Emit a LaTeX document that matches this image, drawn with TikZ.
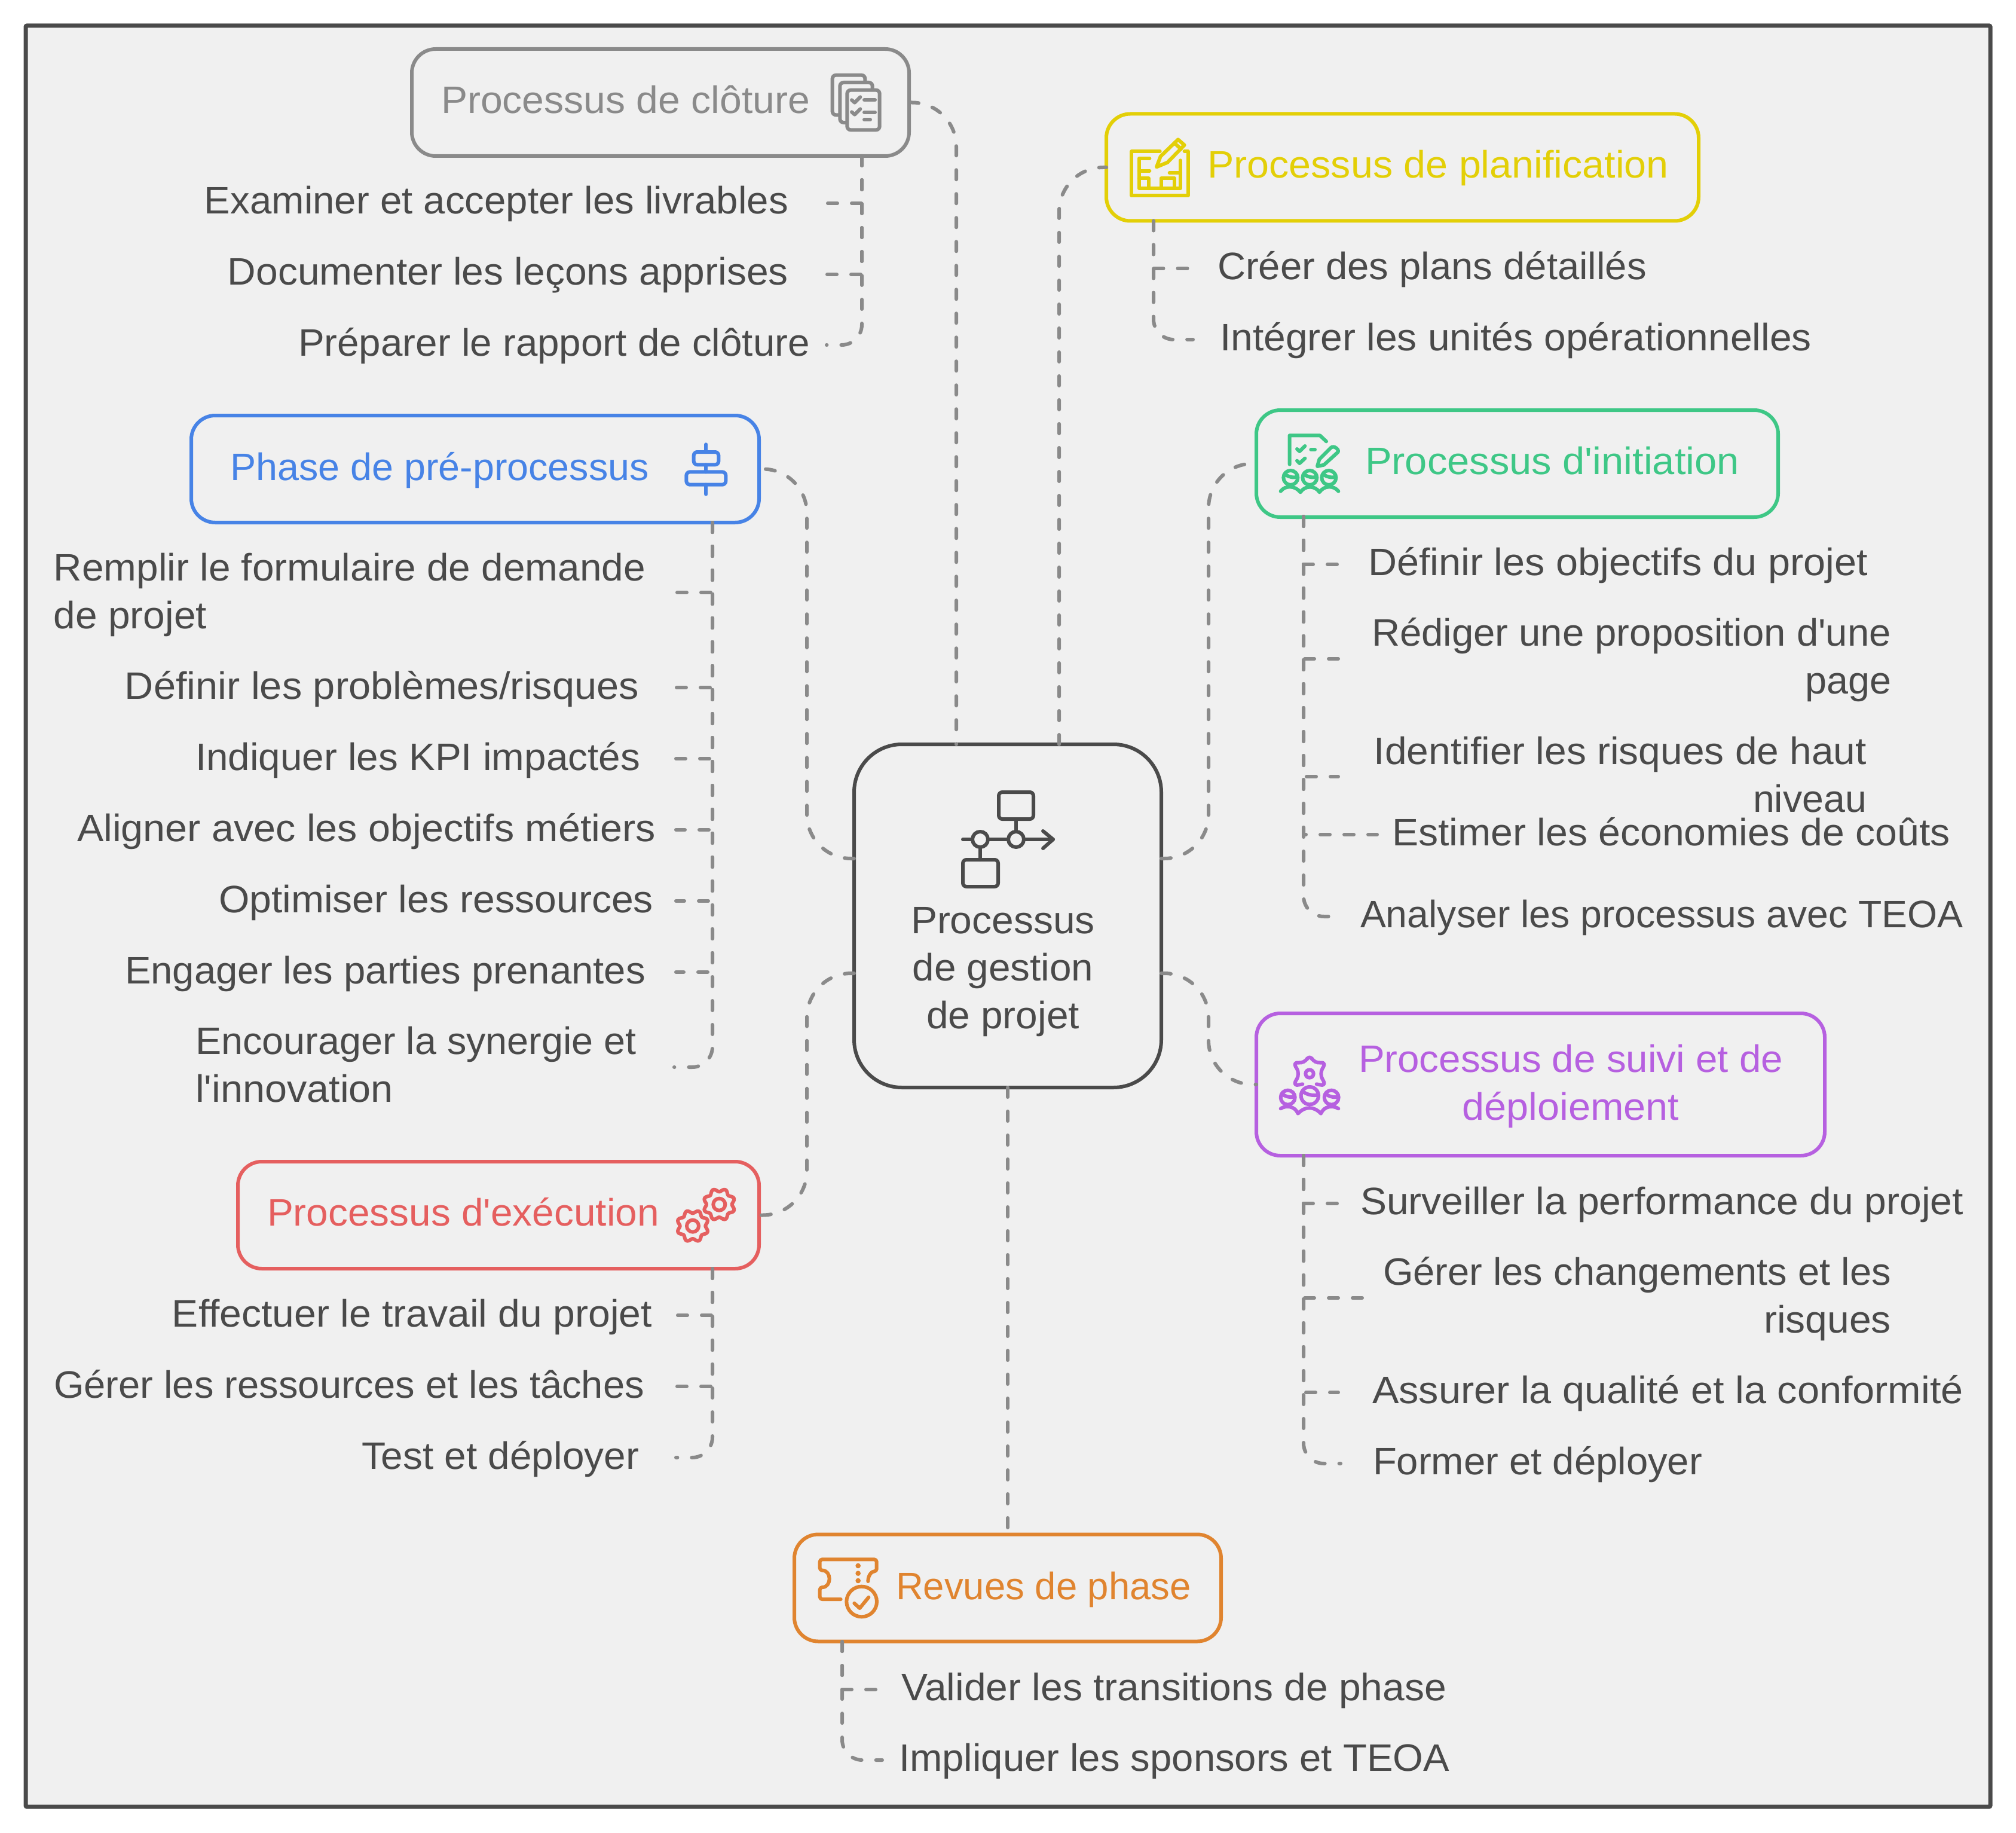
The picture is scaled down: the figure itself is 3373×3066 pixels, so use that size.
\documentclass[tikz,border=0pt]{standalone}
\usepackage{graphicx}
\usepackage{fontspec}
\setmainfont{Liberation Sans}[Ligatures=TeXOff]
\definecolor{bgc}{HTML}{F0F0F0}
\definecolor{ink}{HTML}{4A4A4A}
\definecolor{cgray}{HTML}{8A8A8A}
\definecolor{cyellow}{HTML}{E3CF07}
\definecolor{cgreen}{HTML}{3EC786}
\definecolor{cblue}{HTML}{4783E6}
\definecolor{cpurple}{HTML}{B660E0}
\definecolor{cred}{HTML}{E55F5F}
\definecolor{corange}{HTML}{E0842F}
\newcommand\fitw[2]{\resizebox{#1pt}{\height}{#2}}
\tikzset{
  boxnode/.style={draw=#1,line width=3pt,rounded corners=20pt,inner sep=0pt,outer sep=0pt,minimum height=89.5pt},
  hubnode/.style={draw=ink,line width=3pt,rounded corners=40pt,inner sep=0pt,outer sep=0pt,minimum width=257pt,minimum height=287pt},
  txt/.style={inner sep=0pt,outer sep=0pt,text=ink,font=\fontsize{32}{40}\selectfont},
  ttl/.style={inner sep=0pt,outer sep=0pt,text=#1,font=\fontsize{32}{40}\selectfont},
  conn/.style={draw=cgray,line width=3pt,line cap=round,dash pattern=on 8pt off 12pt},
  bendconn/.style={conn,rounded corners=17pt},
  mainconn/.style={conn,rounded corners=37pt},
  zoomspace/.style={shift={#1},x=0.166667pt,y=-0.166667pt},
  ico/.style={draw=#1,line width=3pt,line cap=round,line join=round},
}
\newcommand\pplhead[4]{% colour,x,y,r
  \draw[ico=#1] (#2,#3) circle[radius=#4];
  \draw[ico=#1] ({#2-0.85*#4},{#3-0.5*#4}) .. controls ({#2-0.3*#4},{#3-0.1*#4}) and ({#2+0.4*#4},{#3+0.05*#4}) .. ({#2+0.95*#4},{#3-0.1*#4});
}
\newcommand\gearico[3]{% colour,x,y
  \draw[ico=#1] plot[domain=0:360,samples=97,smooth] ({#2+(72+8*cos(8*(\x-22.5)))*cos(\x)},{#3+(72+8*cos(8*(\x-22.5)))*sin(\x)}) -- cycle;
  \draw[ico=#1] (#2,#3) circle[radius=30];
}
\begin{document}
\begin{tikzpicture}[x=0.5pt,y=-0.5pt]
\useasboundingbox (0,0) rectangle (3373,3066);
\fill[white] (0,0) rectangle (3373,3066);
\draw[fill=bgc,draw=ink,line width=3.5pt,rounded corners=1pt] (43,43) rectangle (3330,3022);

% boxes
\node[hubnode] (hub) at (1686,1532) {};
\node[boxnode=cgray,minimum width=416pt] (clot) at (1105,171.5) {};
\node[boxnode=cyellow,minimum width=495.5pt] (plan) at (2346.5,280) {};
\node[boxnode=cgreen,minimum width=436.5pt] (init) at (2538.5,775.5) {};
\node[boxnode=cblue,minimum width=475pt] (pre) at (795,784.5) {};
\node[boxnode=cred,minimum width=436pt] (exec) at (834,2032.5) {};
\node[boxnode=cpurple,minimum width=475.5pt,minimum height=119pt] (suivi) at (2577.5,1814) {};
\node[boxnode=corange,minimum width=357pt] (revues) at (1686,2656) {};

% titles
\node[txt,anchor=base] (hubA) at (1678,1561) {\fitw{154}{Processus}};
\node[txt,anchor=base] (hubB) at (1678,1640) {\fitw{151.5}{de gestion}};
\node[txt,anchor=base] (hubC) at (1678,1720) {\fitw{128}{de projet}};
\node[ttl=cgray,anchor=base west] (clotT) at (738,190) {\fitw{308.5}{Processus de clôture}};
\node[ttl=cyellow,anchor=base west] (planT) at (2020,298) {\fitw{386}{Processus de planification}};
\node[ttl=cgreen,anchor=base west] (initT) at (2284,793) {\fitw{313}{Processus d'initiation}};
\node[ttl=cblue,anchor=base west] (preT) at (385,803) {\fitw{350.5}{Phase de pré-processus}};
\node[ttl=cred,anchor=base west] (execT) at (447,2050) {\fitw{328}{Processus d'exécution}};
\node[ttl=cpurple,anchor=base] (suiviA) at (2628,1793) {\fitw{355}{Processus de suivi et de}};
\node[ttl=cpurple,anchor=base] (suiviB) at (2628,1873) {\fitw{181.5}{déploiement}};
\node[ttl=corange,anchor=base west] (revuesT) at (1499,2675) {\fitw{247}{Revues de phase}};

% items
\node[txt,anchor=base east] (c1) at (1319,358) {\fitw{488.5}{Examiner et accepter les livrables}};
\node[txt,anchor=base east] (c2) at (1319,477) {\fitw{469}{Documenter les leçons apprises}};
\node[txt,anchor=base east] (c3) at (1355,595) {\fitw{428}{Préparer le rapport de clôture}};

\node[txt,anchor=base west] (p1a) at (90,971) {\fitw{495}{Remplir le formulaire de demande}};
\node[txt,anchor=base west] (p1b) at (90,1051) {\fitw{128}{de projet}};
\node[txt,anchor=base east] (p2) at (1069,1169) {\fitw{430}{Définir les problèmes/risques}};
\node[txt,anchor=base east] (p3) at (1071,1288) {\fitw{372}{Indiquer les KPI impactés}};
\node[txt,anchor=base east] (p4) at (1097,1407) {\fitw{484}{Aligner avec les objectifs métiers}};
\node[txt,anchor=base east] (p5) at (1093,1526) {\fitw{363.5}{Optimiser les ressources}};
\node[txt,anchor=base east] (p6) at (1080,1645) {\fitw{435.5}{Engager les parties prenantes}};
\node[txt,anchor=base west] (p7a) at (327,1763) {\fitw{369}{Encourager la synergie et}};
\node[txt,anchor=base west] (p7b) at (327,1843) {\fitw{165.5}{l'innovation}};

\node[txt,anchor=base east] (e1) at (1091,2219) {\fitw{401.5}{Effectuer le travail du projet}};
\node[txt,anchor=base west] (e2) at (90,2338) {\fitw{494}{Gérer les ressources et les tâches}};
\node[txt,anchor=base east] (e3) at (1069,2457) {\fitw{232}{Test et déployer}};

\node[txt,anchor=base west] (l1) at (2037,467) {\fitw{359}{Créer des plans détaillés}};
\node[txt,anchor=base west] (l2) at (2041,586) {\fitw{495}{Intégrer les unités opérationnelles}};

\node[txt,anchor=base west] (i1) at (2289,962) {\fitw{418}{Définir les objectifs du projet}};
\node[txt,anchor=base east] (i2a) at (3164,1080) {\fitw{434.5}{Rédiger une proposition d'une}};
\node[txt,anchor=base east] (i2b) at (3164,1160) {\fitw{72}{page}};
\node[txt,anchor=base east] (i3a) at (3123,1278) {\fitw{412}{Identifier les risques de haut}};
\node[txt,anchor=base east] (i3b) at (3123,1358) {\fitw{95}{niveau}};
\node[txt,anchor=base east] (i4) at (3263,1414) {\fitw{467}{Estimer les économies de coûts}};
\node[txt,anchor=base east] (i5) at (3285,1551) {\fitw{504.5}{Analyser les processus avec TEOA}};

\node[txt,anchor=base east] (s1) at (3285,2031) {\fitw{504.5}{Surveiller la performance du projet}};
\node[txt,anchor=base east] (s2a) at (3164,2149) {\fitw{425}{Gérer les changements et les}};
\node[txt,anchor=base east] (s2b) at (3164,2229) {\fitw{106.5}{risques}};
\node[txt,anchor=base east] (s3) at (3285,2347) {\fitw{494.5}{Assurer la qualité et la conformité}};
\node[txt,anchor=base west] (s4) at (2297,2466) {\fitw{275.5}{Former et déployer}};

\node[txt,anchor=base west] (r1) at (1508,2844) {\fitw{456}{Valider les transitions de phase}};
\node[txt,anchor=base west] (r2) at (1504,2962) {\fitw{460.5}{Impliquer les sponsors et TEOA}};

% anchors on the hub and lanes
\coordinate (hubT1) at (1600,1245);
\coordinate (hubT2) at (1772,1245);
\coordinate (hubL1) at (1429,1436);
\coordinate (hubL2) at (1429,1628);
\coordinate (hubR1) at (1943,1436);
\coordinate (hubR2) at (1943,1628);
\coordinate (laneL) at (1350,0);
\coordinate (laneR) at (2022,0);

% main connectors
\draw[mainconn] (clot.east) -| (hubT1);
\draw[mainconn] (hubT2) |- (plan.west);
\draw[mainconn] (hubL1) -- (hubL1 -| laneL) -- (pre.east -| laneL) -- (pre.east);
\draw[mainconn] (hubL2) -- (hubL2 -| laneL) -- (exec.east -| laneL) -- (exec.east);
\draw[mainconn] (hubR1) -- (hubR1 -| laneR) -- (init.west -| laneR) -- (init.west);
\draw[mainconn] (hubR2) -- (hubR2 -| laneR) -- (suivi.west -| laneR) -- (suivi.west);
\draw[conn] (hub.south) -- (revues.north);

% list connectors
\coordinate (cT) at (1442,261);
\coordinate (cA) at (1383,340); \coordinate (cB) at (1383,459); \coordinate (cC) at (1383,577);
\draw[conn] (cT) |- (cA); \draw[conn] (cT) |- (cB); \draw[bendconn] (cT) |- (cC);

\coordinate (lT) at (1930,369.5);
\coordinate (lA) at (1994,449); \coordinate (lB) at (1996,568);
\draw[conn] (lT) |- (lA); \draw[bendconn] (lT) |- (lB);

\coordinate (iT) at (2181,864);
\coordinate (iA) at (2239,944); \coordinate (iB) at (2239,1102); \coordinate (iC) at (2239,1299);
\coordinate (iD) at (2304,1396); \coordinate (iE) at (2226,1533);
\draw[conn] (iT) |- (iA); \draw[conn] (iT) |- (iB); \draw[conn] (iT) |- (iC); \draw[conn] (iT) |- (iD); \draw[bendconn] (iT) |- (iE);

\coordinate (sT) at (2181,1933);
\coordinate (sA) at (2239,2013); \coordinate (sB) at (2280,2171); \coordinate (sC) at (2239,2329); \coordinate (sD) at (2243,2448);
\draw[conn] (sT) |- (sA); \draw[conn] (sT) |- (sB); \draw[conn] (sT) |- (sC); \draw[bendconn] (sT) |- (sD);

\coordinate (rT) at (1409,2746);
\coordinate (rA) at (1471,2826); \coordinate (rB) at (1476,2944);
\draw[conn] (rT) |- (rA); \draw[bendconn] (rT) |- (rB);

\coordinate (pT) at (1192,874);
\coordinate (pA) at (1131,991); \coordinate (pB) at (1131,1150); \coordinate (pC) at (1131,1269);
\coordinate (pD) at (1131,1388); \coordinate (pE) at (1131,1507); \coordinate (pF) at (1131,1626); \coordinate (pG) at (1128,1785);
\foreach \e in {pA,pB,pC,pD,pE,pF} {\draw[conn] (pT) |- (\e);}
\draw[bendconn] (pT) |- (pG);

\coordinate (eT) at (1192,2122);
\coordinate (eA) at (1131,2200); \coordinate (eB) at (1131,2319); \coordinate (eC) at (1131,2438);
\draw[conn] (eT) |- (eA); \draw[conn] (eT) |- (eB); \draw[bendconn] (eT) |- (eC);

% hub icon
\draw[ico=ink,rounded corners=3pt] (1671,1325) rectangle (1729,1370);
\draw[ico=ink,rounded corners=3pt] (1611,1438) rectangle (1670,1483);
\draw[ico=ink] (1611,1404) -- (1627,1404) (1653,1404) -- (1687,1404) (1713,1404) -- (1762,1404);
\draw[ico=ink] (1745,1390) -- (1762,1404) -- (1745,1419);
\draw[ico=ink] (1640,1404) circle[radius=13];
\draw[ico=ink] (1700,1404) circle[radius=13];
\draw[ico=ink] (1700,1370) -- (1700,1391);
\draw[ico=ink] (1640,1417) -- (1640,1438);

% cloture icon
\begin{scope}[zoomspace={(1360,80)}]
\draw[ico=cgray,rounded corners=3pt] (128,337) -- (98,337) -- (98,137) -- (262,137) -- (262,165);
\draw[ico=cgray,rounded corners=3pt] (165,375) -- (136,375) -- (136,174) -- (299,174) -- (299,205);
\draw[ico=cgray,rounded corners=3pt] (172,212) rectangle (335,412);
\draw[ico=cgray] (195,262) -- (210,275) -- (238,247);
\draw[ico=cgray] (195,322) -- (210,335) -- (238,307);
\draw[ico=cgray] (258,262) -- (312,262) (258,323) -- (312,323) (258,361) -- (288,361);
\end{scope}

% planification icon
\begin{scope}[zoomspace={(1840,170)}]
\draw[ico=cyellow] (302,250) -- (160,250) -- (160,472) -- (443,472) -- (443,250) -- (425,250);
\draw[ico=cyellow] (250,285) -- (197,285) -- (197,435) -- (405,435) -- (405,295);
\draw[ico=cyellow] (197,347) -- (250,347);
\draw[ico=cyellow] (197,385) -- (245,385) -- (245,435);
\draw[ico=cyellow] (350,358) -- (405,358);
\draw[ico=cyellow] (308,435) -- (308,385) -- (375,385) -- (375,435);
\draw[ico=cyellow] (285,328) -- (305,275) -- (393,190) -- (425,218) -- (340,305) -- cycle;
\draw[ico=cyellow] (375,208) -- (408,238);
\end{scope}

% initiation icon
\begin{scope}[zoomspace={(2120,680)}]
\draw[ico=cgreen] (113,290) -- (113,145) -- (265,145) -- (297,175);
\draw[ico=cgreen] (150,213) -- (163,225) -- (190,198);
\draw[ico=cgreen] (150,272) -- (163,285) -- (190,260);
\draw[ico=cgreen] (220,216) -- (240,216);
\draw[ico=cgreen] (252,300) -- (262,265) -- (320,207) .. controls (335,190) and (370,222) .. (352,232) -- (285,293) -- cycle;
\pplhead{cgreen}{118}{357}{36}
\pplhead{cgreen}{214}{357}{36}
\pplhead{cgreen}{310}{357}{36}
\draw[ico=cgreen] (68,425) .. controls (90,395) and (140,395) .. (167,430) .. controls (190,395) and (240,395) .. (263,430) .. controls (285,395) and (335,395) .. (358,425);
\end{scope}

% suivi icon
\begin{scope}[zoomspace={(2120,1720)}]
\draw[ico=cpurple,rounded corners=5pt] (178,280) -- (128,290) -- (165,228) -- (128,168) -- (188,177) -- (213,130) -- (238,177) -- (298,168) -- (262,228) -- (298,290) -- (248,280);
\draw[ico=cpurple] (213,228) circle[radius=20];
\pplhead{cpurple}{104}{347}{36}
\pplhead{cpurple}{214}{338}{44}
\pplhead{cpurple}{323}{347}{36}
\draw[ico=cpurple] (68,403) .. controls (95,385) and (140,390) .. (155,428) .. controls (190,390) and (235,390) .. (270,428) .. controls (285,390) and (330,385) .. (358,403);
\end{scope}

% blue icon
\begin{scope}[zoomspace={(1100,700)}]
\draw[ico=cblue,rounded corners=3pt] (182,168) rectangle (307,232);
\draw[ico=cblue,rounded corners=3pt] (145,268) rectangle (343,332);
\draw[ico=cblue] (244,130) -- (244,168) (244,232) -- (244,268) (244,332) -- (244,380);
\end{scope}

% gears
\begin{scope}[zoomspace={(1120,1940)}]
\gearico{cred}{250}{224}
\gearico{cred}{117}{332}
\end{scope}

% revues icon
\begin{scope}[zoomspace={(1340,2580)}]
\draw[ico=corange,rounded corners=2pt] (200,285) -- (95,285) -- (95,225) .. controls (155,225) and (155,140) .. (95,140) -- (95,85) -- (380,85) -- (380,145) .. controls (355,145) and (337,165) .. (337,195);
\fill[corange] (287,117) circle[radius=13] (287,155) circle[radius=13] (287,192) circle[radius=13];
\draw[ico=corange] (305,297) circle[radius=76];
\draw[ico=corange] (268,305) -- (295,330) -- (340,275);
\end{scope}
\end{tikzpicture}
\end{document}
